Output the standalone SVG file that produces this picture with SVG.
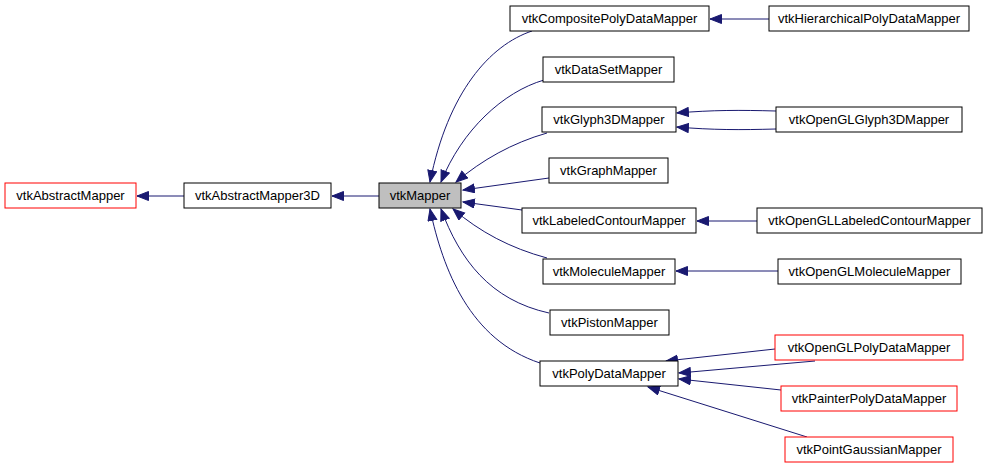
<svg xmlns="http://www.w3.org/2000/svg" width="987" height="468" viewBox="0 0 987 468">
<style>
.n rect{fill:#fff;stroke:#000;stroke-width:1}
.n.r rect{stroke:#f00}
.n.g rect{fill:#bfbfbf}
.n text{font-family:"Liberation Sans",Arial,sans-serif;font-size:13px;text-anchor:middle;fill:#000}
#edges path{fill:none;stroke:#191970;stroke-width:1;marker-end:url(#ah)}
</style>
<defs>
<marker id="ah" markerUnits="userSpaceOnUse" markerWidth="14" markerHeight="12" refX="12" refY="5" orient="auto">
<path d="M0.5,0.5 L12,5 L0.5,9.5 z" fill="#191970" stroke="#191970" stroke-width="1"/>
</marker>
</defs>
<rect width="987" height="468" fill="#fff"/>
<g id="edges">
<path d="M184,196 L137,196"/>
<path d="M379,196 L332,196"/>
<path d="M532,31 C490,45 448,92 430,182"/>
<path d="M544,80 C503,92 462,130 441,182"/>
<path d="M547,133 C512,143 482,160 456,182"/>
<path d="M549,178 L463,190"/>
<path d="M522,210 L463,202"/>
<path d="M547,258 C510,248 480,232 453,209"/>
<path d="M549,313 C490,300 460,260 441,209"/>
<path d="M540,363 C470,340 443,270 430,209"/>
<path d="M769,19 L710,19"/>
<path d="M776,111 C740,110 712,110 677,113"/>
<path d="M776,129 C740,130 712,130 677,127"/>
<path d="M757,221 L697,221"/>
<path d="M778,271 L676,271"/>
<path d="M775,349 L666,361"/>
<path d="M815,361 L679,373"/>
<path d="M781,390 L679,379"/>
<path d="M807,437 L648,387"/>
</g>
<g id="vtkAbstractMapper" class="n r"><rect x="5" y="183" width="131" height="25"/><text x="70.5" y="200">vtkAbstractMapper</text></g>
<g id="vtkAbstractMapper3D" class="n"><rect x="184" y="183" width="147" height="25"/><text x="257.5" y="200">vtkAbstractMapper3D</text></g>
<g id="vtkMapper" class="n g"><rect x="379" y="183" width="82" height="25"/><text x="420" y="200">vtkMapper</text></g>
<g id="vtkCompositePolyDataMapper" class="n"><rect x="510" y="6" width="199" height="25"/><text x="609.5" y="23">vtkCompositePolyDataMapper</text></g>
<g id="vtkDataSetMapper" class="n"><rect x="543" y="57" width="131" height="25"/><text x="608.5" y="74">vtkDataSetMapper</text></g>
<g id="vtkGlyph3DMapper" class="n"><rect x="542" y="107" width="134" height="25"/><text x="609" y="124">vtkGlyph3DMapper</text></g>
<g id="vtkGraphMapper" class="n"><rect x="549" y="158" width="119" height="25"/><text x="608.5" y="175">vtkGraphMapper</text></g>
<g id="vtkLabeledContourMapper" class="n"><rect x="522" y="208" width="174" height="25"/><text x="609" y="225">vtkLabeledContourMapper</text></g>
<g id="vtkMoleculeMapper" class="n"><rect x="543" y="259" width="132" height="25"/><text x="609" y="276">vtkMoleculeMapper</text></g>
<g id="vtkPistonMapper" class="n"><rect x="550" y="310" width="119" height="25"/><text x="609.5" y="327">vtkPistonMapper</text></g>
<g id="vtkPolyDataMapper" class="n"><rect x="540" y="361" width="138" height="25"/><text x="609" y="378">vtkPolyDataMapper</text></g>
<g id="vtkHierarchicalPolyDataMapper" class="n"><rect x="769" y="6" width="200" height="25"/><text x="869" y="23">vtkHierarchicalPolyDataMapper</text></g>
<g id="vtkOpenGLGlyph3DMapper" class="n"><rect x="776" y="107" width="186" height="25"/><text x="869" y="124">vtkOpenGLGlyph3DMapper</text></g>
<g id="vtkOpenGLLabeledContourMapper" class="n"><rect x="757" y="208" width="225" height="25"/><text x="869.5" y="225">vtkOpenGLLabeledContourMapper</text></g>
<g id="vtkOpenGLMoleculeMapper" class="n"><rect x="778" y="259" width="183" height="25"/><text x="869.5" y="276">vtkOpenGLMoleculeMapper</text></g>
<g id="vtkOpenGLPolyDataMapper" class="n r"><rect x="775" y="335" width="188" height="25"/><text x="869" y="352">vtkOpenGLPolyDataMapper</text></g>
<g id="vtkPainterPolyDataMapper" class="n r"><rect x="781" y="386" width="176" height="25"/><text x="869" y="403">vtkPainterPolyDataMapper</text></g>
<g id="vtkPointGaussianMapper" class="n r"><rect x="785" y="437" width="168" height="25"/><text x="869" y="454">vtkPointGaussianMapper</text></g>
</svg>
